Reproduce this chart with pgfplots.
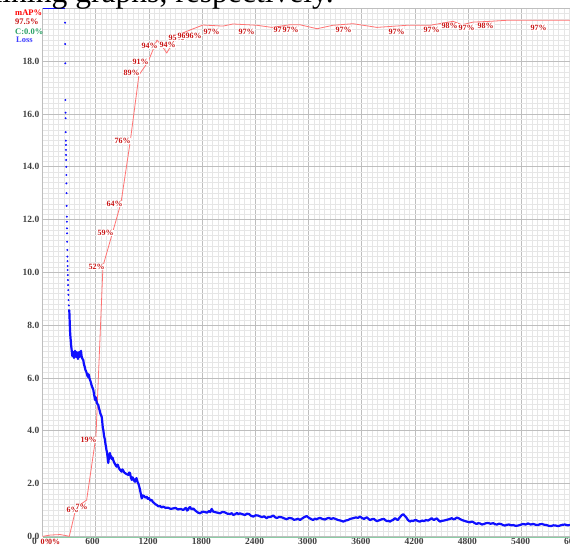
\documentclass[border=0pt]{standalone}
\usepackage{fontspec}
\setmainfont{Liberation Serif}
\usepackage{pgfplots}
\pgfplotsset{compat=1.18}
\definecolor{majgrid}{RGB}{190,190,190}
\definecolor{mingrid}{RGB}{230,230,230}
\definecolor{mapline}{RGB}{255,115,115}
\definecolor{maptext}{RGB}{200,20,20}
\definecolor{lossblue}{RGB}{15,15,255}
\definecolor{cgreen}{RGB}{140,205,165}
\definecolor{ctext}{RGB}{40,160,100}
\tikzset{maplab/.style={anchor=west, fill=white, inner sep=0.4pt, text=maptext, font=\bfseries\fontsize{8}{9}\selectfont}}
\begin{document}
\begin{tikzpicture}[x=1pt,y=1pt]
\path[use as bounding box] (0,0) rectangle (570,548);
\clip (0,0) rectangle (570,548);
\fill[white] (0,0) rectangle (570,548);
\begin{axis}[
  at={(42.5pt,11.6pt)}, anchor=south west,
  scale only axis, width=532pt, height=528pt,
  xmin=0, xmax=6000, ymin=0, ymax=20,
  clip=false,
  axis line style={draw=none},
  tick style={draw=none},
  grid=both,
  major grid style={draw=majgrid, line width=0.7pt},
  minor grid style={draw=mingrid, line width=0.5pt},
  xtick={0,600,1200,1800,2400,3000,3600,4200,4800,5400,6000},
  xticklabels={0,600,1200,1800,2400,3000,3600,4200,4800,5400,6000},
  minor x tick num=9,
  ytick={0,2,4,6,8,10,12,14,16,18,20},
  yticklabels={0.0,2.0,4.0,6.0,8.0,10.0,12.0,14.0,16.0,18.0,{}},
  minor y tick num=9,
  ticklabel style={font=\bfseries\fontsize{9.5}{11}\selectfont, text=black!75},
  xticklabel style={anchor=north west, inner sep=0pt, xshift=-10.5pt, yshift=-2pt},
  yticklabel style={anchor=east, inner sep=0pt, xshift=-3pt},
  scaled ticks=false,
]
% C line (green, at zero)
\addplot[cgreen, line width=1.3pt] coordinates {(0,-0.03) (6000,-0.03)};
% mAP line (scaled: 100% = 20)
\addplot[mapline, line width=0.8pt, line join=round] coordinates {
(0,0) (85,0.05) (197,0.07) (265,0.03) (302,0) (378,1.08) (498,1.38) (603,3.80)
(682,10.24) (792,11.53) (885,12.63) (987,14.90) (1088,17.48) (1190,17.97)
(1291,18.80) (1348,18.58) (1401,18.31) (1449,18.58) (1517,19.0) (1584,19.07)
(1663,19.18) (1810,19.37) (2036,19.33) (2149,19.41) (2419,19.36) (2588,19.28)
(2791,19.38) (2904,19.38) (3096,19.23) (3276,19.36) (3502,19.42) (3772,19.28)
(4111,19.36) (4370,19.36) (4630,19.51) (4731,19.38) (4856,19.48) (5047,19.51)
(5239,19.55) (6000,19.55)
};
% loss clamped at top
\addplot[lossblue, line width=1.3pt] coordinates {(0,20) (254,20)};
% sparse loss points
\addplot[only marks, mark=*, mark size=0.75pt, lossblue] coordinates {
(255,19.46) (256,18.65) (257,17.92) (259,16.53) (260,16.05) (261,15.84) (262,15.31)
(263,14.99) (264,14.83) (265,14.64) (266,14.45) (267,14.26) (268,14.0) (269,13.69)
(270,13.37) (271,13.0) (272,12.52) (274,12.11) (275,11.92) (276,11.67) (277,11.48)
(278,11.16) (280,10.85) (281,10.6) (282,10.43) (283,10.24) (284,10.09) (285,9.9)
(287,9.71) (288,9.52) (290,9.33) (292,9.15) (294,8.95) (297,8.75) (300,8.57)
};
% dense loss
\addplot[lossblue, line width=2.2pt, line join=round] coordinates {
(302,8.57) (305,8.30) (307,8.10) (310,7.82) (314,7.60) (318,7.44) (324,7.20) (329,7.06)
(336,6.83) (340,7.00) (344,6.88) (349,6.98) (355,6.76) (361,6.95) (367,7.03) (372,6.84) (378,6.80) (383,6.98) (389,6.95) (394,6.80) (400,6.72)
(406,6.90) (412,6.98) (418,6.80) (423,6.83) (428,6.96) (434,7.03) (440,6.86) (445,6.76) (452,6.72) (460,6.68) (467,6.52) (474,6.45) (485,6.30)
(492,6.25) (498,6.19) (505,6.10) (513,6.04) (518,6.14) (524,6.11) (530,5.98) (536,5.93) (545,5.84) (553,5.73) (563,5.64) (573,5.55) (581,5.39)
(588,5.26) (592,5.17) (597,5.28) (603,5.24) (609,5.12) (615,5.05) (622,5.00) (629,4.98) (636,4.86) (643,4.79) (649,4.70) (654,4.64) (660,4.60) (668,4.52)
(673,4.38) (677,4.22) (681,4.10) (686,4.03) (690,3.92) (694,3.80) (700,3.72) (705,3.65) (710,3.50) (716,3.40) (721,3.28) (727,3.20) (734,3.00) (742,2.78)
(746,2.90) (750,2.97) (755,3.08) (761,3.16) (767,3.00) (773,3.05) (778,2.95) (784,2.93) (791,2.98) (798,2.89) (808,2.80) (818,2.74) (827,2.68) (837,2.64)
(844,2.72) (851,2.70) (860,2.60) (868,2.55) (880,2.50) (893,2.45) (900,2.54) (908,2.51) (918,2.44) (930,2.40) (948,2.36) (968,2.33) (978,2.42) (987,2.40)
(996,2.25) (1006,2.14) (1013,2.24) (1021,2.21) (1032,2.12) (1043,2.07) (1052,2.16) (1060,2.21) (1070,2.08) (1080,2.01) (1090,1.90) (1100,1.76) (1110,1.60) (1119,1.44)
(1132,1.55) (1145,1.53) (1160,1.47) (1175,1.50) (1188,1.42) (1201,1.45) (1216,1.36) (1232,1.38) (1245,1.30) (1257,1.27) (1272,1.22) (1288,1.19) (1306,1.14) (1325,1.15)
(1343,1.10) (1362,1.13) (1388,1.08) (1415,1.09) (1445,1.04) (1475,1.06) (1500,1.08) (1528,1.02) (1558,1.04) (1588,1.0) (1603,1.05) (1618,1.08) (1630,0.98) (1641,1.0)
(1652,1.08) (1664,1.11) (1682,1.02) (1701,1.06) (1716,1.00) (1731,0.96) (1754,0.90) (1776,0.875) (1805,0.94) (1833,0.92) (1855,0.90) (1878,0.96) (1893,0.92) (1908,1.04)
(1925,0.94) (1945,0.92) (1972,0.90) (2002,0.875) (2030,0.93) (2058,0.91) (2085,0.86) (2115,0.85) (2135,0.88) (2152,0.81) (2172,0.84) (2194,0.89) (2210,0.84) (2227,0.875)
(2255,0.84) (2284,0.81) (2305,0.86) (2329,0.85) (2352,0.78) (2377,0.75) (2404,0.80) (2430,0.79) (2452,0.76) (2475,0.73) (2500,0.76) (2528,0.69) (2548,0.74) (2566,0.73)
(2585,0.76) (2603,0.79) (2625,0.72) (2645,0.70) (2672,0.74) (2701,0.72) (2728,0.68) (2754,0.65) (2784,0.70) (2814,0.68) (2836,0.63) (2859,0.64) (2882,0.67) (2904,0.62)
(2920,0.66) (2938,0.70) (2958,0.74) (2980,0.77) (2998,0.72) (3017,0.68) (3034,0.65) (3051,0.62) (3072,0.67) (3092,0.65) (3110,0.68) (3130,0.70) (3158,0.66) (3186,0.64)
(3208,0.68) (3231,0.70) (3255,0.66) (3280,0.69) (3306,0.66) (3333,0.62) (3362,0.60) (3392,0.56) (3418,0.60) (3445,0.62) (3468,0.66) (3491,0.68) (3514,0.70) (3536,0.72)
(3558,0.70) (3581,0.75) (3603,0.70) (3626,0.66) (3643,0.70) (3660,0.72) (3677,0.66) (3694,0.62) (3716,0.65) (3739,0.66) (3756,0.61) (3773,0.58) (3790,0.60) (3806,0.62)
(3828,0.65) (3851,0.66) (3868,0.61) (3885,0.58) (3902,0.59) (3919,0.56) (3936,0.60) (3953,0.62) (3965,0.66) (3976,0.69) (3992,0.65) (4009,0.62) (4020,0.68) (4032,0.73)
(4050,0.80) (4069,0.84) (4085,0.78) (4100,0.73) (4122,0.62) (4145,0.56) (4162,0.60) (4179,0.58) (4196,0.61) (4212,0.62) (4234,0.58) (4257,0.56) (4280,0.60) (4303,0.58)
(4325,0.62) (4348,0.60) (4368,0.64) (4389,0.69) (4402,0.65) (4415,0.62) (4432,0.66) (4449,0.68) (4466,0.61) (4483,0.56) (4505,0.59) (4528,0.60) (4550,0.62) (4573,0.64)
(4594,0.66) (4615,0.69) (4634,0.65) (4652,0.66) (4669,0.71) (4686,0.70) (4708,0.66) (4731,0.62) (4757,0.59) (4784,0.56) (4802,0.55) (4821,0.53) (4838,0.56) (4855,0.55)
(4876,0.50) (4897,0.47) (4915,0.50) (4934,0.49) (4956,0.45) (4979,0.47) (5002,0.50) (5024,0.51) (5054,0.48) (5084,0.50) (5105,0.46) (5126,0.45) (5148,0.48) (5171,0.47)
(5194,0.43) (5216,0.41) (5238,0.44) (5261,0.45) (5285,0.42) (5310,0.43) (5336,0.40) (5363,0.41) (5390,0.44) (5419,0.47) (5448,0.45) (5476,0.49) (5505,0.45) (5535,0.47)
(5562,0.44) (5588,0.43) (5610,0.46) (5633,0.47) (5660,0.44) (5686,0.43) (5710,0.40) (5735,0.39) (5763,0.42) (5791,0.41) (5814,0.39) (5836,0.41) (5864,0.44) (5893,0.45)
(5920,0.42) (5949,0.43) (6000,0.41)
};
% mAP labels
\node[maplab] at (axis cs:-28,-0.19) {0\%};
\node[maplab] at (axis cs:56,-0.19) {0\%};
\node[maplab] at (axis cs:265,1.0) {6\%};
\node[maplab] at (axis cs:367,1.125) {7\%};
\node[maplab] at (axis cs:423,3.65) {19\%};
\node[maplab] at (axis cs:513,10.2) {52\%};
\node[maplab] at (axis cs:615,11.5) {59\%};
\node[maplab] at (axis cs:716,12.6) {64\%};
\node[maplab] at (axis cs:806,14.99) {76\%};
\node[maplab] at (axis cs:908,17.56) {89\%};
\node[maplab] at (axis cs:1009,17.98) {91\%};
\node[maplab] at (axis cs:1111,18.58) {94\%};
\node[maplab] at (axis cs:1314,18.61) {94\%};
\node[maplab] at (axis cs:1415,18.88) {95\%};
\node[maplab] at (axis cs:1517,18.96) {96\%};
\node[maplab] at (axis cs:1607,18.96) {96\%};
\node[maplab] at (axis cs:1810,19.12) {97\%};
\node[maplab] at (axis cs:2205,19.11) {97\%};
\node[maplab] at (axis cs:2600,19.18) {97\%};
\node[maplab] at (axis cs:2701,19.18) {97\%};
\node[maplab] at (axis cs:3299,19.18) {97\%};
\node[maplab] at (axis cs:3897,19.12) {97\%};
\node[maplab] at (axis cs:4291,19.2) {97\%};
\node[maplab] at (axis cs:4494,19.33) {98\%};
\node[maplab] at (axis cs:4686,19.28) {97\%};
\node[maplab] at (axis cs:4900,19.33) {98\%};
\node[maplab] at (axis cs:5498,19.28) {97\%};
\end{axis}
% legend
\node[anchor=west, inner sep=0pt, text=red, font=\bfseries\fontsize{8.5}{9}\selectfont] at (15,535) {mAP\%};
\node[anchor=west, inner sep=0pt, text=maptext, font=\bfseries\fontsize{8.5}{9}\selectfont] at (15,526.3) {97.5\%};
\node[anchor=west, inner sep=0pt, text=ctext, font=\bfseries\fontsize{8.5}{9}\selectfont] at (15,516.3) {C:0.0\%};
\node[anchor=west, inner sep=0pt, text=lossblue!80, font=\bfseries\fontsize{8.5}{9}\selectfont] at (16,508) {Loss};
% cropped text line above the chart
\node[anchor=base east, inner sep=0pt, font=\fontsize{31.6}{34}\selectfont] at (334,545.5) {training graphs, respectively.};
\end{tikzpicture}
\end{document}
